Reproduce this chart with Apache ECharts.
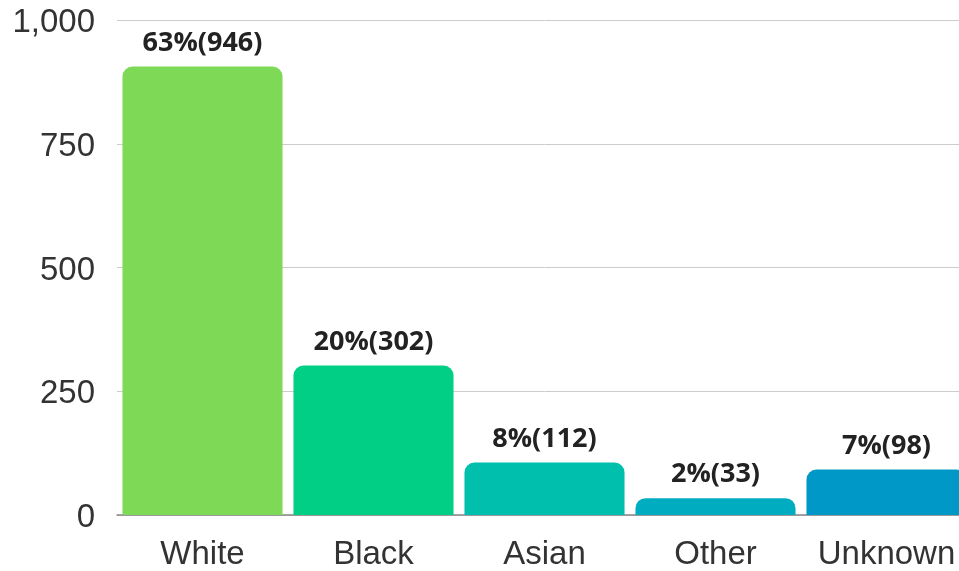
<!DOCTYPE html>
<html>
<head>
<meta charset="utf-8">
<script src="https://cdn.jsdelivr.net/npm/echarts@6/dist/echarts.min.js"></script>
<style>
html,body{margin:0;padding:0;background:#fff;overflow:hidden;width:959px;height:571px;}
#c{width:972px;height:571px;}
</style>
</head>
<body>
<div id="c"></div>
<script>
const categories = ["White", "Black", "Asian", "Other", "Unknown"];
const barValues = [906, 302, 106, 34, 92];
const counts = [946, 302, 112, 33, 98];
const percents = ["63%", "20%", "8%", "2%", "7%"];
const colors = ["#7ED957", "#02CF86", "#00BFAD", "#00ADC0", "#0098C6"];
const yTicks = [0, 250, 500, 750, 1000];

const chart = echarts.init(document.getElementById('c'), null, {renderer: 'canvas'});
chart.setOption({
  animation: false,
  grid: {left: 117, top: 20, right: 0, bottom: 56, containLabel: false},
  xAxis: {
    type: 'category',
    data: categories,
    axisTick: {show: false},
    axisLine: {show: true, lineStyle: {color: '#888', width: 1.5}},
    axisLabel: {interval: 0, fontFamily: 'Liberation Sans', fontSize: 33, color: '#333', margin: 23}
  },
  yAxis: {
    type: 'value',
    min: yTicks[0],
    max: yTicks[yTicks.length - 1],
    interval: 250,
    axisLine: {show: false},
    axisTick: {show: false},
    splitLine: {lineStyle: {color: '#ccc', width: 1}},
    axisLabel: {
      fontFamily: 'Liberation Sans', fontSize: 33, color: '#333', margin: 22,
      formatter: v => '{v|' + v.toLocaleString('en-US') + '}',
      rich: {v: {fontFamily: 'Liberation Sans', fontSize: 33, color: '#333', padding: [6, 0, 0, 0]}}
    }
  },
  series: [{
    type: 'bar',
    data: barValues.map((v, i) => ({value: v, itemStyle: {color: colors[i]}})),
    barCategoryGap: '6.4%',
    itemStyle: {borderRadius: [10, 10, 0, 0]},
    label: {
      show: true,
      position: 'top',
      distance: 10,
      fontFamily: 'Open Sans',
      fontWeight: 'bold',
      fontSize: 27,
      color: '#222',
      formatter: p => percents[p.dataIndex] + '(' + counts[p.dataIndex] + ')'
    }
  }]
});
</script>
</body>
</html>
